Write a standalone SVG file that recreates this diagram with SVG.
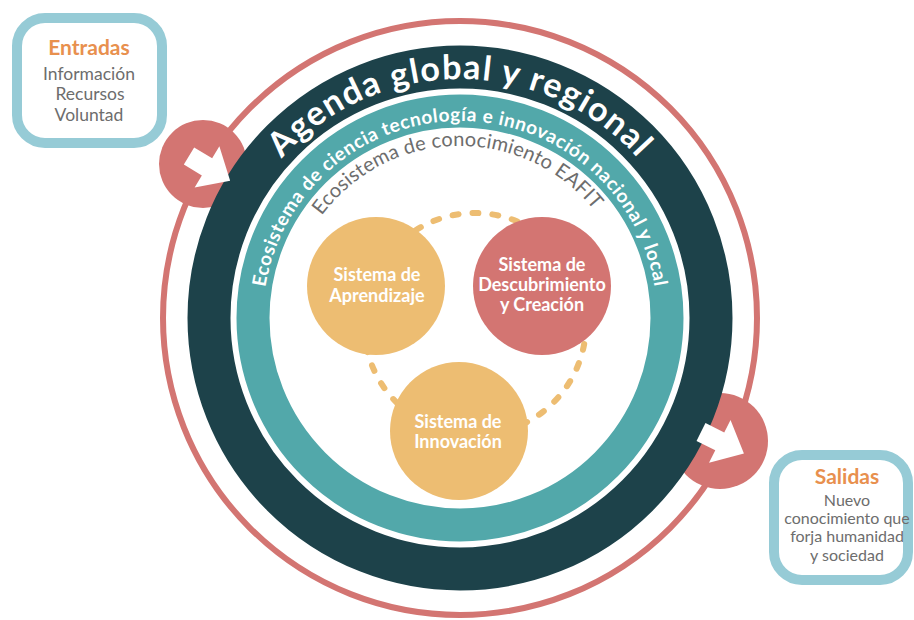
<svg xmlns="http://www.w3.org/2000/svg" xmlns:xlink="http://www.w3.org/1999/xlink" width="914" height="620" viewBox="0 0 914 620">
  <style>
    .box { fill: #ffffff; stroke: #96CBD6; stroke-width: 10; }
    .boxTitle { font-family: Lato, "Open Sans", sans-serif; font-weight: 700; font-size: 21px; fill: #E8904E; text-anchor: middle; }
    .boxText { font-family: Lato, "Open Sans", sans-serif; font-size: 17.5px; fill: #6D6D6D; text-anchor: middle; }
    .boxText2 { font-family: Lato, "Open Sans", sans-serif; font-size: 16px; fill: #6D6D6D; text-anchor: middle; }
    .nodeText { font-family: Lato, "Open Sans", sans-serif; font-weight: 700; font-size: 18px; fill: #ffffff; text-anchor: middle; }
    .ringTitle { font-family: Lato, "Open Sans", sans-serif; font-weight: 700; font-size: 34px; fill: #ffffff; letter-spacing: 1.4px; }
    .ringTeal { font-family: Lato, "Open Sans", sans-serif; font-weight: 700; font-size: 19px; fill: #ffffff; letter-spacing: 0.6px; }
    .ringGrey { font-family: Lato, "Open Sans", sans-serif; font-size: 20px; fill: #6D6D6D; letter-spacing: 0.2px; }
    .yellow { fill: #EDBD72; }
    .salmon { fill: #D37572; }
    .arrow { fill: #ffffff; }
  </style>
  <defs>
    <path id="arcAgenda" d="M253,437.5 A239,239 0 1,1 667,437.5"/>
    <path id="arcTeal" d="M289.4,416.5 A197,197 0 1,1 630.6,416.5"/>
    <path id="arcGrey" d="M311.04,404 A172,172 0 1,1 608.96,404"/>
    <path id="arrowShape" d="M0,-10 L21,-10 L21,-24 L48,0 L21,24 L21,10 L0,10 Z"/>
  </defs>

  <rect width="914" height="620" fill="#ffffff"/>

  <!-- outer thin ring -->
  <g id="ring-outer">
    <circle cx="460" cy="318" r="297" fill="none" stroke="#D37572" stroke-width="6"/>
  </g>

  <!-- arrow badges (under the dark ring) -->
  <g id="arrow-badges">
    <circle class="salmon" cx="203" cy="164" r="44"/>
    <circle class="salmon" cx="720" cy="441" r="48"/>
  </g>

  <g id="ring-agenda">
    <circle cx="460" cy="318" r="251" fill="none" stroke="#1D424A" stroke-width="43"/>
    <text class="ringTitle"><textPath xlink:href="#arcAgenda" href="#arcAgenda" startOffset="50%" text-anchor="middle">Agenda global y regional</textPath></text>
  </g>

  <g id="ring-nacional">
    <circle cx="460" cy="318" r="207" fill="none" stroke="#52A8AA" stroke-width="33"/>
    <text class="ringTeal"><textPath xlink:href="#arcTeal" href="#arcTeal" startOffset="50%" text-anchor="middle">Ecosistema de ciencia tecnología e innovación nacional y local</textPath></text>
  </g>

  <g id="ring-eafit">
    <text class="ringGrey"><textPath xlink:href="#arcGrey" href="#arcGrey" startOffset="49.5%" text-anchor="middle">Ecosistema de conocimiento EAFIT</textPath></text>
  </g>

  <!-- connectors -->
  <g id="connectors">
    <circle cx="475" cy="324" r="111" fill="none" stroke="#EDBD72" stroke-width="6" stroke-linecap="round" stroke-dasharray="6 14"/>
    <use href="#arrowShape" xlink:href="#arrowShape" class="arrow" transform="translate(189,156) rotate(31)"/>
    <use href="#arrowShape" xlink:href="#arrowShape" class="arrow" transform="translate(701,432) rotate(26.6)"/>
  </g>

  <g id="node-aprendizaje">
    <circle class="yellow" cx="376" cy="286" r="69"/>
    <text class="nodeText" x="377" y="281">Sistema de</text>
    <text class="nodeText" x="377" y="302">Aprendizaje</text>
  </g>

  <g id="node-descubrimiento">
    <circle class="salmon" cx="542" cy="286" r="69"/>
    <text class="nodeText" x="542" y="271">Sistema de</text>
    <text class="nodeText" x="542" y="291">Descubrimiento</text>
    <text class="nodeText" x="542" y="311">y Creación</text>
  </g>

  <g id="node-innovacion">
    <circle class="yellow" cx="459" cy="431" r="69"/>
    <text class="nodeText" x="458" y="428">Sistema de</text>
    <text class="nodeText" x="458" y="448">Innovación</text>
  </g>

  <g id="node-entradas">
    <rect class="box" x="17" y="18" width="145" height="125" rx="28"/>
    <text class="boxTitle" x="89" y="55">Entradas</text>
    <text class="boxText" x="89" y="80">Información</text>
    <text class="boxText" x="90" y="100">Recursos</text>
    <text class="boxText" x="89" y="121">Voluntad</text>
  </g>

  <g id="node-salidas">
    <rect class="box" x="774" y="455" width="134" height="125" rx="28"/>
    <text class="boxTitle" x="847" y="484">Salidas</text>
    <text class="boxText2" x="847" y="506">Nuevo</text>
    <text class="boxText2" x="847" y="524">conocimiento que</text>
    <text class="boxText2" x="847" y="542">forja humanidad</text>
    <text class="boxText2" x="847" y="561">y sociedad</text>
  </g>
</svg>
